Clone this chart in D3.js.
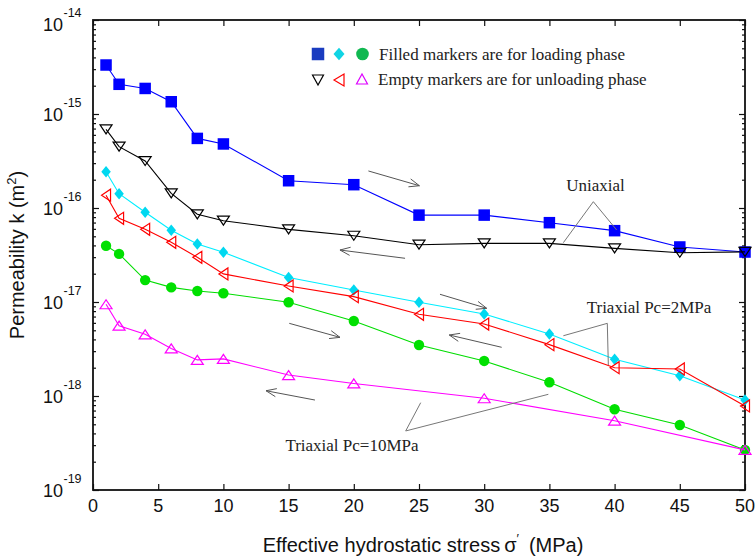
<!DOCTYPE html>
<html><head><meta charset="utf-8">
<script src="https://cdn.jsdelivr.net/npm/d3@7"></script>
<style>
html,body{margin:0;padding:0;background:#fff;}
svg{display:block;}
</style></head>
<body>
<svg id="chart" width="755" height="559"></svg>
<script>
// ---- data ----
const stress = [1,2,4,6,8,10,15,20,25,30,35,40,45,50];
const stressPc10Unload = [1,2,4,6,8,10,15,20,30,40,50];
const uniaxialLoad   = [3.32e-15,2.07e-15,1.87e-15,1.35e-15,5.5e-16,4.8e-16,1.95e-16,1.77e-16,8.4e-17,8.4e-17,6.98e-17,5.74e-17,3.85e-17,3.40e-17];
const uniaxialUnload = [6.87e-16,4.49e-16,3.16e-16,1.43e-16,8.57e-17,7.33e-17,5.93e-17,5.07e-17,4.07e-17,4.2e-17,4.2e-17,3.72e-17,3.34e-17,3.41e-17];
const pc2Load   = [2.43e-16,1.42e-16,9.0e-17,5.79e-17,4.14e-17,3.38e-17,1.82e-17,1.34e-17,9.93e-18,7.45e-18,4.57e-18,2.46e-18,1.64e-18,9.06e-19];
const pc2Unload = [1.37e-16,7.76e-17,5.93e-17,4.31e-17,2.99e-17,1.99e-17,1.48e-17,1.14e-17,7.4e-18,5.83e-18,3.52e-18,2.0e-18,1.94e-18,7.83e-19];
const pc10Load   = [3.97e-17,3.25e-17,1.71e-17,1.43e-17,1.31e-17,1.24e-17,9.93e-18,6.28e-18,3.49e-18,2.36e-18,1.40e-18,7.22e-19,4.91e-19,2.67e-19];
const pc10Unload = [9.46e-18,5.6e-18,4.53e-18,3.21e-18,2.42e-18,2.48e-18,1.67e-18,1.36e-18,9.46e-19,5.46e-19,2.67e-19];

const xTicks = [0,5,10,15,20,25,30,35,40,45,50];
const yExponents = [-14,-15,-16,-17,-18,-19];

const legendLoadText = "Filled markers are for loading phase";
const legendUnloadText = "Empty markers are for unloading phase";

// arrows: [x1, log10 k1, x2, log10 k2] (arrowhead at second point)
const arrows = [
  [21.12,-15.606, 25.03,-15.763],
  [23.93,-16.535, 18.94,-16.447],
  [26.61,-16.918, 30.19,-17.067],
  [15.05,-17.227, 18.94,-17.376],
  [31.34,-17.482, 27.32,-17.351],
  [17.02,-18.043, 13.27,-17.944]
];
// callouts: label, text x, text baseline log k, apex, two ends
const callouts = [
  {label:"Uniaxial", tx:38.53, ty:-15.819, apex:[38.37,-15.933], ends:[[36.07,-16.369],[40.16,-16.234]]},
  {label:"Triaxial Pc=2MPa", tx:42.64, ty:-17.114, apex:[39.44,-17.227], ends:[[36.07,-17.359],[39.52,-17.670]]},
  {label:"Triaxial Pc=10MPa", tx:19.86, ty:-18.585, apex:[23.98,-18.372], ends:[[25.13,-18.071],[34.92,-17.982]]}
];

// ---- layout ----
const L = 93, R = 745, T = 20, B = 490;
const svg = d3.select("#chart");
const x = d3.scaleLinear().domain([0,50]).range([L,R]);
const y = d3.scaleLog().domain([1e-19,1e-14]).range([B,T]);

const majors = yExponents.map(e => Math.pow(10,e));
const minors = [];
for (let e=-19; e<-14; e++) for (let m=2; m<=9; m++) minors.push(m*Math.pow(10,e));

const axisStroke = "#111";
function styleAxis(g){ g.select(".domain").remove(); g.selectAll("line").attr("stroke",axisStroke).attr("stroke-width",1.2); g.selectAll("text").remove(); }

svg.append("g").attr("transform",`translate(0,${B})`).call(d3.axisBottom(x).tickValues(xTicks).tickSize(-6)).call(styleAxis);
svg.append("g").attr("transform",`translate(0,${T})`).call(d3.axisTop(x).tickValues(xTicks).tickSize(-6)).call(styleAxis);
svg.append("g").attr("transform",`translate(${L},0)`).call(d3.axisLeft(y).tickValues(majors).tickSize(-6)).call(styleAxis);
svg.append("g").attr("transform",`translate(${L},0)`).call(d3.axisLeft(y).tickValues(minors).tickSize(-3)).call(styleAxis);
svg.append("g").attr("transform",`translate(${R},0)`).call(d3.axisRight(y).tickValues(majors).tickSize(-6)).call(styleAxis);
svg.append("g").attr("transform",`translate(${R},0)`).call(d3.axisRight(y).tickValues(minors).tickSize(-3)).call(styleAxis);

// frame
svg.append("rect").attr("x",L).attr("y",T).attr("width",R-L).attr("height",B-T)
  .attr("fill","none").attr("stroke",axisStroke).attr("stroke-width",1.8);

// x tick labels
svg.append("g").selectAll("text").data(xTicks).join("text")
  .attr("x",d=>x(d)).attr("y",B+22).attr("text-anchor","middle")
  .attr("font-family","Liberation Sans, Arial, sans-serif").attr("font-size",18).attr("fill","#111")
  .text(d=>d);

// y tick labels 10^e
const yl = svg.append("g").attr("font-family","Liberation Sans, Arial, sans-serif").attr("fill","#111");
yExponents.forEach(e=>{
  const yy = y(Math.pow(10,e)) + (e===-14 ? 4 : 0);
  yl.append("text").attr("x",63).attr("y",yy+6.5).attr("text-anchor","end").attr("font-size",18).text("10");
  yl.append("text").attr("x",63.5).attr("y",yy-7).attr("text-anchor","start").attr("font-size",12.5).text(String(e));
});

// axis titles
const xt = svg.append("text").attr("x",423).attr("y",552).attr("text-anchor","middle")
  .attr("font-family","Liberation Sans, Arial, sans-serif").attr("font-size",20).attr("fill","#111");
xt.append("tspan").text("Effective hydrostatic stress\u2009σ");
xt.append("tspan").attr("dy",-9).attr("font-size",13).text("\u2032");
xt.append("tspan").attr("dy",9).text("\u2002(MPa)");

const ytl = svg.append("text").attr("transform","translate(24,255) rotate(-90)").attr("text-anchor","middle")
  .attr("font-family","Liberation Sans, Arial, sans-serif").attr("font-size",20).attr("fill","#111");
ytl.append("tspan").text("Permeability k (m");
ytl.append("tspan").attr("dy",-8).attr("font-size",13).text("2");
ytl.append("tspan").attr("dy",8).text(")");

// markers
const sq = s => `M${-s/2},${-s/2}H${s/2}V${s/2}H${-s/2}Z`;
const dia = (w,h) => `M0,${-h/2}L${w/2},0L0,${h/2}L${-w/2},0Z`;
const triDown = (w,h) => `M${-w/2},${-h/2}L${w/2},${-h/2}L0,${h/2}Z`;
const triUp = (w,h) => `M${-w/2},${h/2}L${w/2},${h/2}L0,${-h/2}Z`;
const triLeft = (w,h) => `M${-w/2},0L${w/2},${-h/2}L${w/2},${h/2}Z`;
const circ = r => `M${r},0A${r},${r},0,1,1,${-r},0A${r},${r},0,1,1,${r},0Z`;

const series = [
  {xs:stress, ys:uniaxialLoad, line:"#0000ff", path:sq(11.5), fill:"#0000ff", stroke:"none"},
  {xs:stress, ys:uniaxialUnload, line:"#000000", path:triDown(12,9), fill:"none", stroke:"#000"},
  {xs:stress, ys:pc2Load, line:"#00eeff", path:dia(9.5,11.5), fill:"#00d8f0", stroke:"none"},
  {xs:stress, ys:pc2Unload, line:"#ff0000", path:triLeft(9,12), fill:"none", stroke:"#ff0000"},
  {xs:stress, ys:pc10Load, line:"#00dd00", path:circ(5.2), fill:"#00e000", stroke:"none"},
  {xs:stressPc10Unload, ys:pc10Unload, line:"#ff00ff", path:triUp(12,9), fill:"none", stroke:"#ff00ff"}
];

const line = d3.line().x(d=>x(d[0])).y(d=>y(d[1]));
series.forEach(s=>{
  const pts = s.xs.map((v,i)=>[v,s.ys[i]]);
  const g = svg.append("g");
  g.append("path").attr("d",line(pts)).attr("fill","none").attr("stroke",s.line).attr("stroke-width",1.1);
  g.selectAll("path.m").data(pts).join("path").attr("class","m")
    .attr("transform",d=>`translate(${x(d[0])},${y(d[1])})`)
    .attr("d",s.path).attr("fill",s.fill).attr("stroke",s.stroke).attr("stroke-width",1.2);
});

// arrows
const ag = svg.append("g").attr("stroke","#555").attr("stroke-width",1).attr("fill","none");
arrows.forEach(a=>{
  const x1=x(a[0]), y1=y(Math.pow(10,a[1])), x2=x(a[2]), y2=y(Math.pow(10,a[3]));
  ag.append("line").attr("x1",x1).attr("y1",y1).attr("x2",x2).attr("y2",y2);
  const ang = Math.atan2(y2-y1,x2-x1), len=11, sp=0.38;
  const p1=[x2-len*Math.cos(ang-sp), y2-len*Math.sin(ang-sp)];
  const p2=[x2-len*Math.cos(ang+sp), y2-len*Math.sin(ang+sp)];
  ag.append("path").attr("d",`M${p1[0]},${p1[1]}L${x2},${y2}L${p2[0]},${p2[1]}`);
});

// callouts
const cg = svg.append("g");
callouts.forEach(c=>{
  const ax=x(c.apex[0]), ay=y(Math.pow(10,c.apex[1]));
  c.ends.forEach(e=>{
    cg.append("line").attr("x1",ax).attr("y1",ay).attr("x2",x(e[0])).attr("y2",y(Math.pow(10,e[1])))
      .attr("stroke","#777").attr("stroke-width",1);
  });
  cg.append("text").attr("x",x(c.tx)).attr("y",y(Math.pow(10,c.ty))).attr("text-anchor","middle")
    .attr("font-family","Liberation Serif, Times New Roman, serif").attr("font-size",17).attr("fill","#222")
    .text(c.label);
});

// legend
const lg = svg.append("g");
lg.append("path").attr("transform","translate(318,54)").attr("d",sq(12.5)).attr("fill","#1a3cc0");
lg.append("path").attr("transform","translate(339,54)").attr("d",dia(11,12.5)).attr("fill","#10d4e4");
lg.append("path").attr("transform","translate(362.5,54)").attr("d",circ(6.3)).attr("fill","#10b850");
lg.append("path").attr("transform","translate(318,80)").attr("d",triDown(11,10)).attr("fill","none").attr("stroke","#000").attr("stroke-width",1.2);
lg.append("path").attr("transform","translate(339,80)").attr("d",triLeft(10,12)).attr("fill","none").attr("stroke","#ff0000").attr("stroke-width",1.2);
lg.append("path").attr("transform","translate(362,79)").attr("d",triUp(11,10)).attr("fill","none").attr("stroke","#dd00ff").attr("stroke-width",1.2);
lg.append("text").attr("x",379).attr("y",59.5).attr("font-family","Liberation Serif, Times New Roman, serif").attr("font-size",17).attr("fill","#222").text(legendLoadText);
lg.append("text").attr("x",378).attr("y",85).attr("font-family","Liberation Serif, Times New Roman, serif").attr("font-size",17).attr("fill","#222").text(legendUnloadText);
</script>
</body></html>
